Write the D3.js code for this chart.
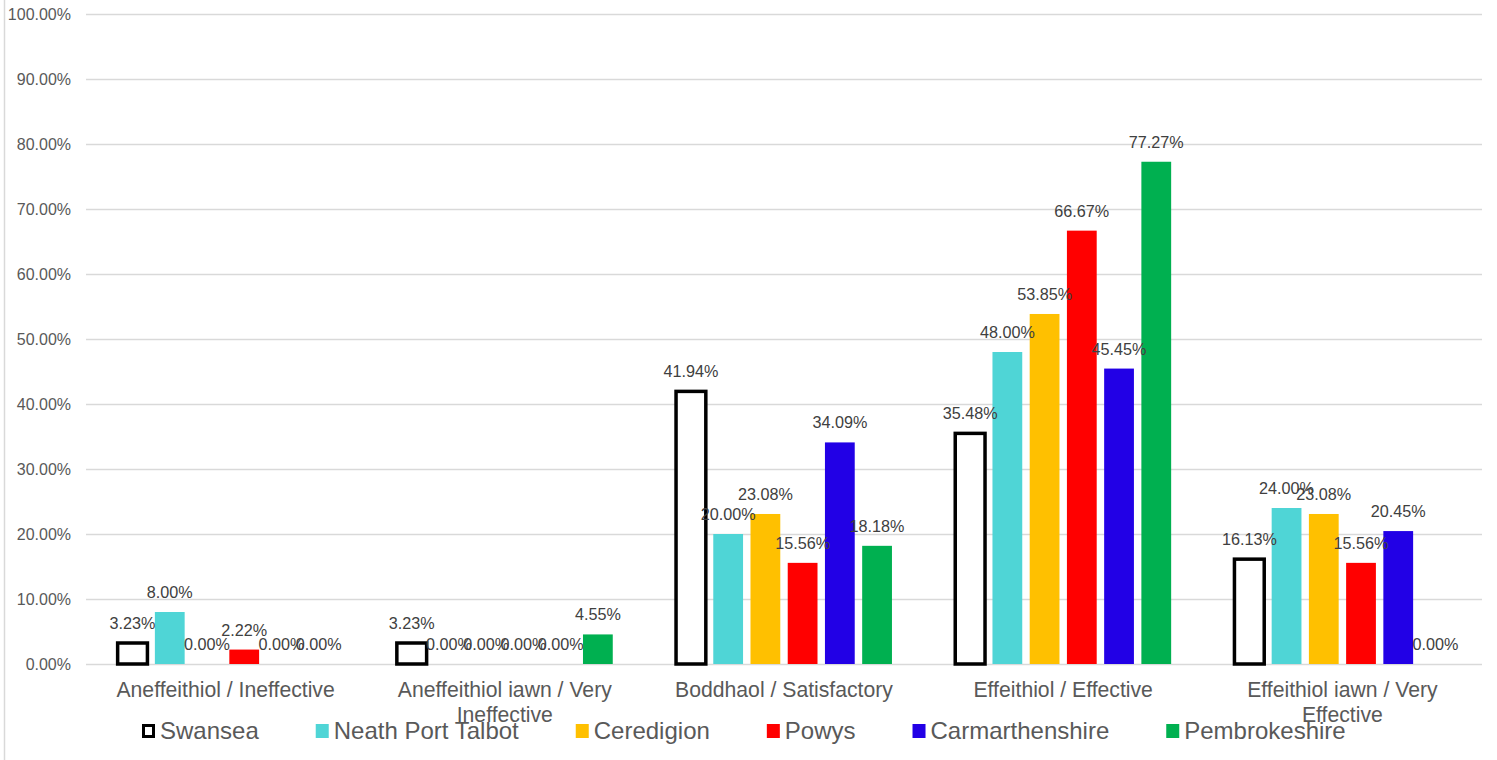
<!DOCTYPE html>
<html>
<head>
<meta charset="utf-8">
<script src="https://cdn.jsdelivr.net/npm/d3@7"></script>
<style>
  body { margin: 0; background: #fff; }
  svg { display: block; font-family: "Liberation Sans", Arial, sans-serif; }
</style>
</head>
<body>
<div id="chart"></div>
<script>
// Chart data
const categories = [
  'Aneffeithiol / Ineffective',
  'Aneffeithiol iawn / Very Ineffective',
  'Boddhaol / Satisfactory',
  'Effeithiol / Effective',
  'Effeithiol iawn / Very Effective'
];
const seriesNames = ['Swansea', 'Neath Port Talbot', 'Ceredigion', 'Powys', 'Carmarthenshire', 'Pembrokeshire'];
const swansea = [3.23, 3.23, 41.94, 35.48, 16.13];
const neathPortTalbot = [8.00, 0.00, 20.00, 48.00, 24.00];
const ceredigion = [0.00, 0.00, 23.08, 53.85, 23.08];
const powys = [2.22, 0.00, 15.56, 66.67, 15.56];
const carmarthenshire = [0.00, 0.00, 34.09, 45.45, 20.45];
const pembrokeshire = [0.00, 4.55, 18.18, 77.27, 0.00];
const yTicks = [0, 10, 20, 30, 40, 50, 60, 70, 80, 90, 100];

const seriesValues = [swansea, neathPortTalbot, ceredigion, powys, carmarthenshire, pembrokeshire];
const colors = ['#ffffff', '#4fd5d6', '#ffc000', '#ff0000', '#2200e6', '#00b050'];

const W = 1497, H = 760;
const margin = {top: 14, right: 15, bottom: 96, left: 86};
const width = W - margin.left - margin.right;
const height = H - margin.top - margin.bottom;

const svg = d3.select('#chart').append('svg')
  .attr('width', W)
  .attr('height', H);

// left border of chart area
svg.append('line')
  .attr('x1', 4.5).attr('x2', 4.5)
  .attr('y1', 0).attr('y2', H)
  .attr('stroke', '#d9d9d9')
  .attr('stroke-width', 1.5);

const g = svg.append('g')
  .attr('transform', `translate(${margin.left},${margin.top})`);

// Scales
const x0 = d3.scaleBand()
  .domain(categories)
  .range([0, width])
  .paddingInner(0.2)
  .paddingOuter(0.1);

const x1 = d3.scaleBand()
  .domain(seriesNames)
  .range([0, x0.bandwidth()])
  .paddingInner(0.2)
  .paddingOuter(0.1);

const y = d3.scaleLinear()
  .domain([0, 100])
  .range([height, 0]);

// Gridlines
g.append('g')
  .selectAll('line')
  .data(yTicks)
  .enter()
  .append('line')
  .attr('x1', 0)
  .attr('x2', width)
  .attr('y1', d => Math.round(y(d)) + 0.5)
  .attr('y2', d => Math.round(y(d)) + 0.5)
  .attr('stroke', '#d9d9d9')
  .attr('stroke-width', 1.5);

// Y axis labels
const yAxis = g.append('g')
  .call(d3.axisLeft(y).tickValues(yTicks).tickFormat(d => d.toFixed(2) + '%').tickSize(0).tickPadding(15));
yAxis.select('.domain').remove();
yAxis.selectAll('text')
  .style('font-size', '16px')
  .style('font-family', '"Liberation Sans", Arial, sans-serif')
  .attr('fill', '#595959');

// Bars
const rows = categories.map((c, i) => ({
  category: c,
  values: seriesNames.map((s, j) => ({series: s, idx: j, value: seriesValues[j][i]}))
}));

const groups = g.selectAll('.group')
  .data(rows)
  .enter()
  .append('g')
  .attr('class', 'group')
  .attr('transform', d => `translate(${x0(d.category)},0)`);

groups.selectAll('rect')
  .data(d => d.values)
  .enter()
  .append('rect')
  .attr('x', d => x1(d.series))
  .attr('y', d => y(d.value))
  .attr('width', x1.bandwidth())
  .attr('height', d => height - y(d.value))
  .attr('fill', d => colors[d.idx])
  .attr('stroke', d => d.idx === 0 ? '#000' : 'none')
  .attr('stroke-width', 3.5);

// Value labels
groups.selectAll('.value-label')
  .data(d => d.values)
  .enter()
  .append('text')
  .attr('class', 'value-label')
  .attr('x', d => x1(d.series) + x1.bandwidth() / 2)
  .attr('y', d => y(d.value) - 14)
  .attr('text-anchor', 'middle')
  .style('font-size', '16.2px')
  .attr('fill', '#404040')
  .text(d => d.value.toFixed(2) + '%');

// Category labels (wrapped)
const catLines = {
  'Aneffeithiol / Ineffective': ['Aneffeithiol / Ineffective'],
  'Aneffeithiol iawn / Very Ineffective': ['Aneffeithiol iawn / Very', 'Ineffective'],
  'Boddhaol / Satisfactory': ['Boddhaol / Satisfactory'],
  'Effeithiol / Effective': ['Effeithiol / Effective'],
  'Effeithiol iawn / Very Effective': ['Effeithiol iawn / Very', 'Effective']
};
const catText = g.append('g')
  .selectAll('text')
  .data(categories)
  .enter()
  .append('text')
  .attr('x', d => x0(d) + x0.bandwidth() / 2)
  .attr('y', height + 33)
  .attr('text-anchor', 'middle')
  .style('font-size', '21.2px')
  .attr('fill', '#595959');
catText.selectAll('tspan')
  .data(d => catLines[d].map(t => ({t, d})))
  .enter()
  .append('tspan')
  .attr('x', o => x0(o.d) + x0.bandwidth() / 2)
  .attr('dy', (o, i) => i === 0 ? 0 : 25)
  .text(o => o.t);

// Legend
const legend = svg.append('g')
  .attr('transform', 'translate(142,724)');
let lx = 0;
seriesNames.forEach((s, i) => {
  const item = legend.append('g').attr('transform', `translate(${lx},0)`);
  if (i === 0) {
    item.append('rect')
      .attr('x', 1.5).attr('y', 1.5)
      .attr('width', 10).attr('height', 11)
      .attr('fill', '#fff')
      .attr('stroke', '#000')
      .attr('stroke-width', 3);
  } else {
    item.append('rect')
      .attr('x', 0).attr('y', 0)
      .attr('width', 13).attr('height', 14)
      .attr('fill', colors[i]);
  }
  const t = item.append('text')
    .attr('x', 18)
    .attr('y', 15)
    .style('font-size', '24px')
    .attr('fill', '#595959')
    .text(s);
  lx += 18 + t.node().getComputedTextLength() + 57;
});
</script>
</body>
</html>
